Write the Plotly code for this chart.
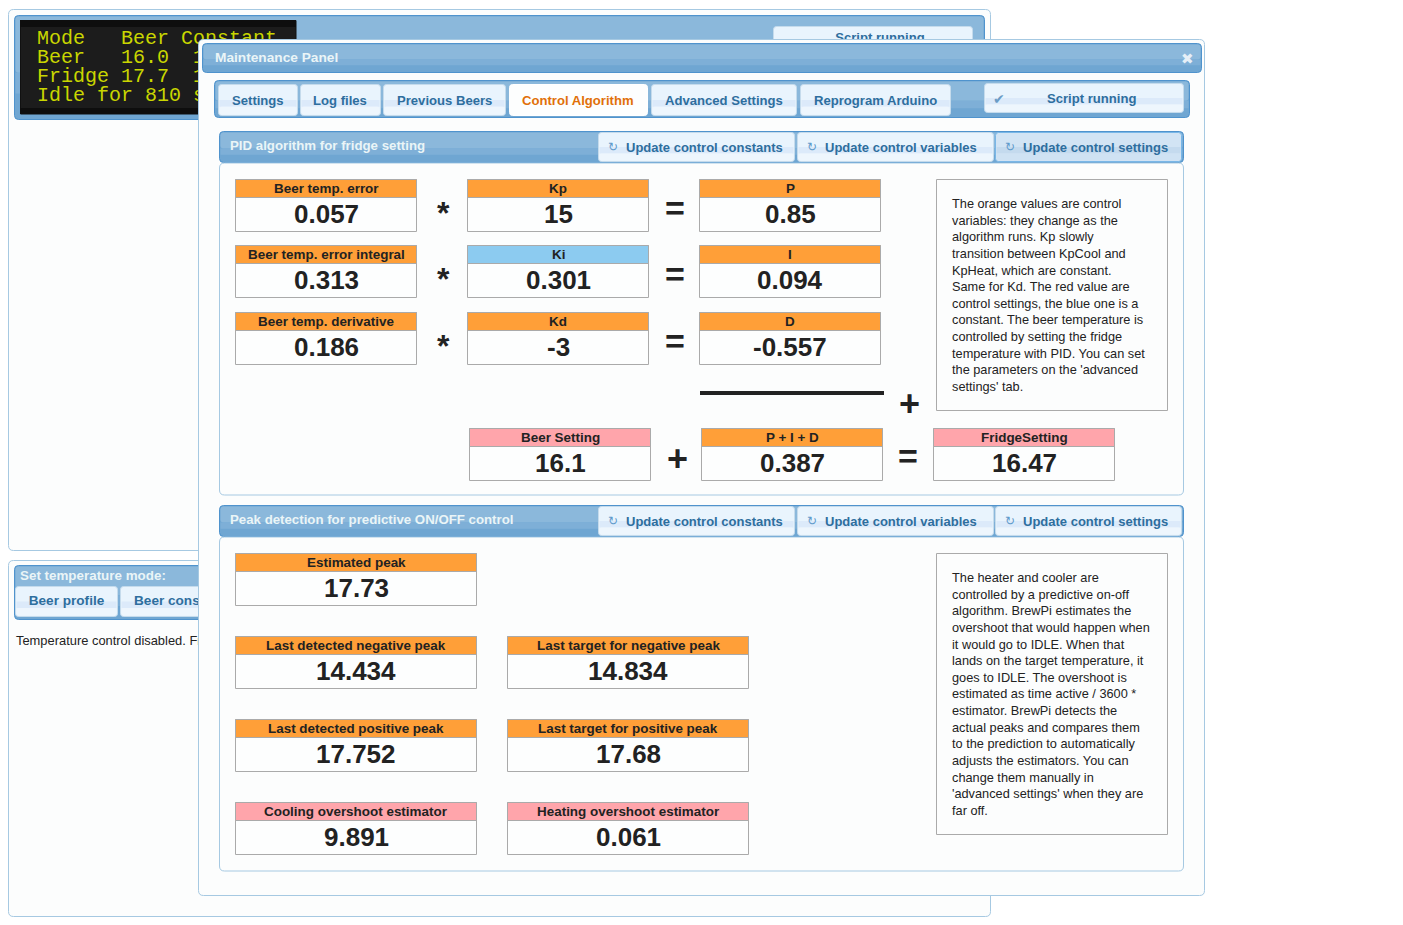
import plotly.graph_objects as go

# ---------- content ----------
LCD_LINES = ["Mode   Beer Constant", "Beer   16.0  1", "Fridge 17.7  1", "Idle for 810 s"]
TABS = ["Settings", "Log files", "Previous Beers", "Control Algorithm", "Advanced Settings", "Reprogram Arduino"]
UPDATE_BUTTONS = ["Update control constants", "Update control variables", "Update control settings"]
PID_TITLE = "PID algorithm for fridge setting"
PEAK_TITLE = "Peak detection for predictive ON/OFF control"
PID_LABELS = ["Beer temp. error", "Kp", "P", "Beer temp. error integral", "Ki", "I", "Beer temp. derivative", "Kd", "D"]
PID_VALUES = ["0.057", "15", "0.85", "0.313", "0.301", "0.094", "0.186", "-3", "-0.557"]
PID_KINDS = ["var", "var", "var", "var", "const", "var", "var", "var", "var"]
SUM_LABELS = ["Beer Setting", "P + I + D", "FridgeSetting"]
SUM_VALUES = ["16.1", "0.387", "16.47"]
SUM_KINDS = ["set", "var", "set"]
PEAK_LABELS = ["Estimated peak", "Last detected negative peak", "Last target for negative peak",
               "Last detected positive peak", "Last target for positive peak",
               "Cooling overshoot estimator", "Heating overshoot estimator"]
PEAK_VALUES = ["17.73", "14.434", "14.834", "17.752", "17.68", "9.891", "0.061"]
PEAK_KINDS = ["var", "var", "var", "var", "var", "set", "set"]
NOTE_1 = ["The orange values are control", "variables: they change as the", "algorithm runs. Kp slowly",
          "transition between KpCool and", "KpHeat, which are constant.", "Same for Kd. The red value are",
          "control settings, the blue one is a", "constant. The beer temperature is",
          "controlled by setting the fridge", "temperature with PID. You can set",
          "the parameters on the 'advanced", "settings' tab."]
NOTE_2 = ["The heater and cooler are", "controlled by a predictive on-off", "algorithm. BrewPi estimates the",
          "overshoot that would happen when", "it would go to IDLE. When that", "lands on the target temperature, it",
          "goes to IDLE. The overshoot is", "estimated as time active / 3600 *", "estimator. BrewPi detects the",
          "actual peaks and compares them", "to the prediction to automatically", "adjusts the estimators. You can",
          "change them manually in", "'advanced settings' when they are", "far off."]

# ---------- styles ----------
FONT = "Liberation Sans"
KIND_COLOR = {"var": "#ff9f38", "const": "#8ccbf0", "set": "#ffa5ab"}
BORDER = "#a6c9e2"
DARK_BORDER = "#4f93cd"
BTN_TEXT = "#2e6e9e"
shapes, annos = [], []


def rr(x0, y0, x1, y1, r=4):
    return (f"M{x0+r},{y0} L{x1-r},{y0} Q{x1},{y0} {x1},{y0+r} L{x1},{y1-r} Q{x1},{y1} {x1-r},{y1} "
            f"L{x0+r},{y1} Q{x0},{y1} {x0},{y1-r} L{x0},{y0+r} Q{x0},{y0} {x0+r},{y0} Z")


def box(x0, y0, x1, y1, fill, line=None, r=0, layer="above", lw=1):
    s = dict(xref="x", yref="y", layer=layer, fillcolor=fill,
             line=dict(color=line or fill, width=lw if line else 0))
    if r:
        s.update(type="path", path=rr(x0, y0, x1, y1, r))
    else:
        s.update(type="rect", x0=x0, y0=y0, x1=x1, y1=y1)
    shapes.append(s)


def text(x, y, s, size=13, color="#222222", bold=False, anchor="center"):
    annos.append(dict(x=x, y=y, xref="x", yref="y", text=f"<b>{s}</b>" if bold else s, showarrow=False,
                      xanchor=anchor, yanchor="middle", font=dict(family=FONT, size=size, color=color)))


def bar(x0, y0, x1, y1, layer="above"):
    """Blue jQuery-UI style header bar."""
    x0, y0, x1, y1 = x0 + .5, y0 + .5, x1 - .5, y1 - .5
    box(x0, y0, x1, y1, "#6fa6d2", DARK_BORDER, 4, layer)
    h = y1 - y0
    box(x0 + 1, y0 + 1, x1 - 1, y0 + h * 0.55, "#8bb8db", None, 3, layer)
    box(x0 + 1, y0 + h * 0.55, x1 - 1, y0 + h * 0.75, "#7eafd7", None, 0, layer)


def button(x0, y0, x1, y1, active=False, hover=False, layer="above"):
    x0, y0, x1, y1 = x0 + .5, y0 + .5, x1 - .5, y1 - .5
    h = y1 - y0
    if active:
        box(x0, y0, x1, y1, "#fdfefe", "#ffffff", 3, layer)
        return
    top, mid, low = ("#d2e4f4", "#c4daee", "#cfe2f3") if hover else ("#e9f4fd", "#dceafa", "#eef6fd")
    box(x0, y0, x1, y1, top, "#c5dbec" if not hover else "#79b7e7", 3, layer)
    box(x0 + 1, y0 + h * 0.5, x1 - 1, y0 + h * 0.72, mid, None, 0, layer)
    box(x0 + 1, y0 + h * 0.72, x1 - 1, y1 - 1, low, None, 2, layer)


def cell(x0, y0, w, label, value, kind):
    box(x0 + .5, y0 + .5, x0 + w - .5, y0 + 52.5, "#fdfefe", "#aaaaaa")
    box(x0 + .5, y0 + .5, x0 + w - .5, y0 + 18.5, KIND_COLOR[kind], "#aaaaaa")
    text(x0 + w / 2, y0 + 9.5, label, 13.45, "#222222", True)
    text(x0 + w / 2, y0 + 35, value, 26, "#222222", True)


# ---------- background page (partly hidden by the dialog) ----------
box(8.5, 9.5, 990.5, 550.5, "#fcfdfd", BORDER, 5, "below")
bar(14, 15, 985, 120, "below")
box(20.5, 20.5, 296, 114, "#1c1c1c", "#111111", 0, "below")
box(20, 20, 296, 27, "#0e0e0e", None, 0, "below")
box(20, 108, 296, 114, "#0e0e0e", None, 0, "below")
button(773, 26, 973, 60, layer="below")
box(8.5, 560.5, 990.5, 916.5, "#fcfdfd", BORDER, 5, "below")
bar(14, 565, 400, 620, "below")
button(15, 586, 118, 617, layer="below")
button(120, 586, 240, 617, layer="below")

# ---------- dialog ----------
box(198.5, 39.5, 1204.5, 895.5, "#fcfdfd", BORDER, 5)
bar(202, 43, 1202, 73)
text(213, 57.5, "Maintenance Panel", 13.7, "#eaf5f7", True, "left")
text(1187, 58.5, "✖", 15, "#e6eff7", False)

bar(214, 80, 1190, 118)
TAB_EDGES = [(218, 298), (300, 381), (383, 506), (509, 648), (651, 797), (800, 951)]
for i, (label, (a, b)) in enumerate(zip(TABS, TAB_EDGES)):
    button(a, 84, b, 116, active=i == 3)
    text((a + b) / 2 - 0.5, 100.5, label, 13.1, "#e17009" if i == 3 else BTN_TEXT, True)
button(984, 83, 1184, 113)
text(999, 98.5, "✔", 14, "#6b9cc6")
text(1091, 98.5, "Script running", 13.1, BTN_TEXT, True)


def section(top, title, third_hover, bottom):
    bar(219, top, 1184, top + 32)
    text(228, top + 14, title, 13.25, "#eaf5f7", True, "left")
    edges = [(598, 795), (797, 994), (995, 1182)]
    for i, (label, (a, b)) in enumerate(zip(UPDATE_BUTTONS, edges)):
        button(a, top + 1, b, top + 31, hover=third_hover and i == 2)
        text(a + 15, top + 15.5, "↻", 12, "#5f9acb", False)
        text(a + 26, top + 16, label, 13, BTN_TEXT, True, "left")
    box(219.5, top + 32, 1183.5, bottom, "#fcfdfd", BORDER, 5)


section(131, PID_TITLE, True, 495)
section(505, PEAK_TITLE, False, 871)

# PID grid
COLS, ROWS = [235, 467, 699], [179, 245, 312]
for i in range(9):
    cell(COLS[i % 3], ROWS[i // 3], 182, PID_LABELS[i], PID_VALUES[i], PID_KINDS[i])
for y in ROWS:
    text(443, y + 34, "*", 32, "#222222", True)
    text(675, y + 29, "=", 34, "#222222", True)
box(700, 391, 884, 395, "#222222")
text(909, 403, "+", 36, "#222222", True)
for x, label, value, kind in zip([469, 701, 933], SUM_LABELS, SUM_VALUES, SUM_KINDS):
    cell(x, 428, 182, label, value, kind)
text(677, 458, "+", 36, "#222222", True)
text(908, 456, "=", 34, "#222222", True)

# Notes
box(936.5, 179.5, 1167.5, 410.5, "#fcfdfd", "#aaaaaa")
for i, line in enumerate(NOTE_1):
    text(950, 203.5 + i * 16.64, line, 12.75, "#222222", False, "left")
box(936.5, 553.5, 1167.5, 834.5, "#fcfdfd", "#aaaaaa")
for i, line in enumerate(NOTE_2):
    text(950, 577.5 + i * 16.64, line, 12.75, "#222222", False, "left")

# Peak grid
PEAK_POS = [(235, 553), (235, 636), (507, 636), (235, 719), (507, 719), (235, 802), (507, 802)]
for (x, y), label, value, kind in zip(PEAK_POS, PEAK_LABELS, PEAK_VALUES, PEAK_KINDS):
    cell(x, y, 242, label, value, kind)

# ---------- text that the dialog covers: traces sit between the two shape layers ----------
traces = [
    go.Scatter(x=[37] * 4, y=[39, 58, 77, 96], text=LCD_LINES, mode="text", textposition="middle right",
               textfont=dict(family="Liberation Mono", size=20, color="#c9d600"), hoverinfo="skip"),
    go.Scatter(x=[880, 66.5, 134, 20, 16], y=[39, 602, 602, 577, 641.5],
               text=["Script running", "Beer profile", "Beer constant", "Set temperature mode:",
                     "Temperature control disabled. Fridge"],
               mode="text", textposition=["middle center", "middle center", "middle right", "middle right", "middle right"],
               textfont=dict(family=FONT, size=[13.1, 13.6, 13.6, 13.4, 12.9],
                             color=[BTN_TEXT, BTN_TEXT, BTN_TEXT, "#eaf5f7", "#222222"],
                             weight=[700, 700, 700, 700, 400]),
               hoverinfo="skip"),
]

fig = go.Figure(traces)
fig.update_layout(width=1403, height=925, margin=dict(l=0, r=0, t=0, b=0), showlegend=False,
                  paper_bgcolor="white", plot_bgcolor="white", shapes=shapes, annotations=annos,
                  xaxis=dict(range=[0, 1403], visible=False, fixedrange=True),
                  yaxis=dict(range=[925, 0], visible=False, fixedrange=True))
fig.write_html("out.html", config=dict(displayModeBar=False, responsive=False),
               post_script="document.body.style.margin='0';document.documentElement.style.overflow='hidden';")
